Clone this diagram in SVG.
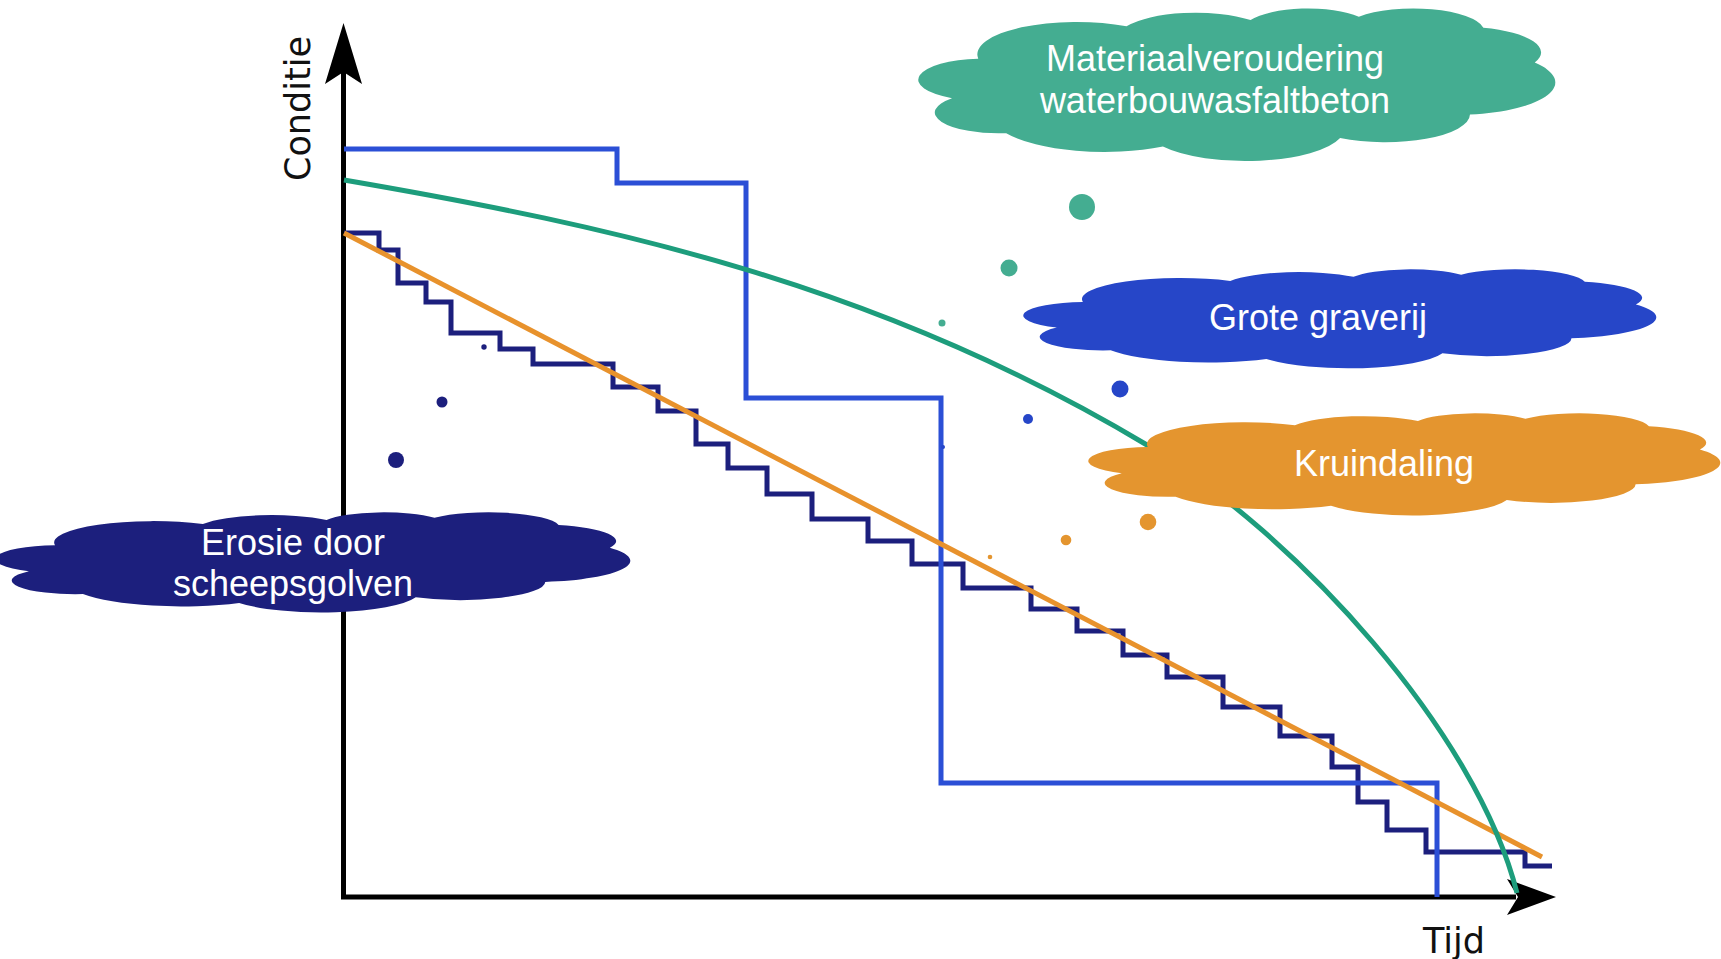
<svg xmlns="http://www.w3.org/2000/svg" xmlns:xlink="http://www.w3.org/1999/xlink" width="1721" height="959" viewBox="0 0 1721 959">
<style>
.ax{fill:none;stroke:#000;stroke-width:5;stroke-linejoin:miter}
.ah{fill:#000;stroke:none}
.ser{fill:none;stroke-width:5;stroke-linejoin:miter}
.lbl{font-family:"DejaVu Sans","Verdana",sans-serif;font-size:35px;fill:#111}
.ct{font-family:"Liberation Sans",Arial,sans-serif;font-size:36px;fill:#fff;text-anchor:middle}
</style>
<defs>
<path id="cloud" d="M3900,14370 A6753,9190 0 0 1 14005,5202 A5333,7267 0 0 1 22457,3432 A4365,5945 0 0 1 29835,2481 A4857,6595 0 0 1 38320,5576 A5333,7273 0 0 1 41820,15460 A6775,9220 0 0 1 37406,30202 A5785,7867 0 0 1 28558,36812 A6752,9215 0 0 1 16484,39268 A7720,10543 0 0 1 5807,35471 A4360,5918 0 0 1 2115,25551 A4345,5945 0 0 1 3900,14370 Z"/>
</defs>
<rect width="1721" height="959" fill="#fff"/>
<g id="axes">
<path class="ax" d="M343.5,72 V897 H1516"/>
<path class="ah" d="M343.5,23 L362,84 L343.5,72 L325,84 Z"/>
<path class="ah" d="M1556,897 L1507,915 L1518,897 L1507,879 Z"/>
<text class="lbl" transform="translate(310,108.5) rotate(-90)" text-anchor="middle">Conditie</text>
<text class="lbl" x="1454" y="953" text-anchor="middle">Tijd</text>
</g>
<g id="connectors">
<path id="navy-steps" class="ser" stroke="#1c1f7d" stroke-width="5.5" d="M344,233 H379 V250 H398 V283 H426 V302 H451 V333 H500 V349 H533 V364 H613 V387 H658 V411 H696 V444 H728 V468 H767 V494 H812 V519 H868 V541 H912 V564 H963 V588 H1031 V609 H1077 V631 H1123 V655 H1167 V677 H1223 V707 H1280 V736 H1332 V767 H1358 V802 H1387 V830 H1426 V852 H1525 V866 H1552"/>
<path id="blue-steps" class="ser" stroke="#2b4fd6" stroke-width="4.5" d="M344,149 H617 V183 H746 V398 H941 V783 H1437 V897"/>
<path id="orange-line" class="ser" stroke="#e8922c" d="M344,233 L1542,857"/>
<path id="green-curve" class="ser" stroke="#1d9d7c" stroke-width="5.5" d="M344,180 C612,226 879,284 1147,445 C1297,535 1477,733 1517,893"/>
</g>
<g id="dots">
<circle cx="1082" cy="207" r="13" fill="#44ad91"/>
<circle cx="1009" cy="268" r="8.5" fill="#44ad91"/>
<circle cx="942" cy="323" r="3.5" fill="#44ad91"/>
<circle cx="1120" cy="389" r="8.5" fill="#2646c8"/>
<circle cx="1028" cy="419" r="5" fill="#2646c8"/>
<circle cx="943" cy="447" r="2" fill="#2646c8"/>
<circle cx="1148" cy="522" r="8.3" fill="#e4952f"/>
<circle cx="1066" cy="540" r="5.3" fill="#e4952f"/>
<circle cx="990" cy="557" r="2.3" fill="#e4952f"/>
<circle cx="396" cy="460" r="8" fill="#1c1f7d"/>
<circle cx="442" cy="402" r="5.5" fill="#1c1f7d"/>
<circle cx="484" cy="347" r="2.7" fill="#1c1f7d"/>
</g>
<g id="cloud-materiaal">
<use xlink:href="#cloud" href="#cloud" fill="#44ad91" transform="translate(921,8) scale(0.014676,0.00353)"/>
<text class="ct" x="1215" y="71">Materiaalveroudering</text>
<text class="ct" x="1215" y="113">waterbouwasfaltbeton</text>
</g>
<g id="cloud-graverij">
<use xlink:href="#cloud" href="#cloud" fill="#2646c8" transform="translate(1026,269) scale(0.014583,0.0022917)"/>
<text class="ct" x="1318" y="330">Grote graverij</text>
</g>
<g id="cloud-kruindaling">
<use xlink:href="#cloud" href="#cloud" fill="#e4952f" transform="translate(1091,413) scale(0.01456,0.002361)"/>
<text class="ct" x="1384" y="476">Kruindaling</text>
</g>
<g id="cloud-erosie">
<use xlink:href="#cloud" href="#cloud" fill="#1c1f7d" transform="translate(-2,512) scale(0.01463,0.0023148)"/>
<text class="ct" x="293" y="555">Erosie door</text>
<text class="ct" x="293" y="596">scheepsgolven</text>
</g>
</svg>
